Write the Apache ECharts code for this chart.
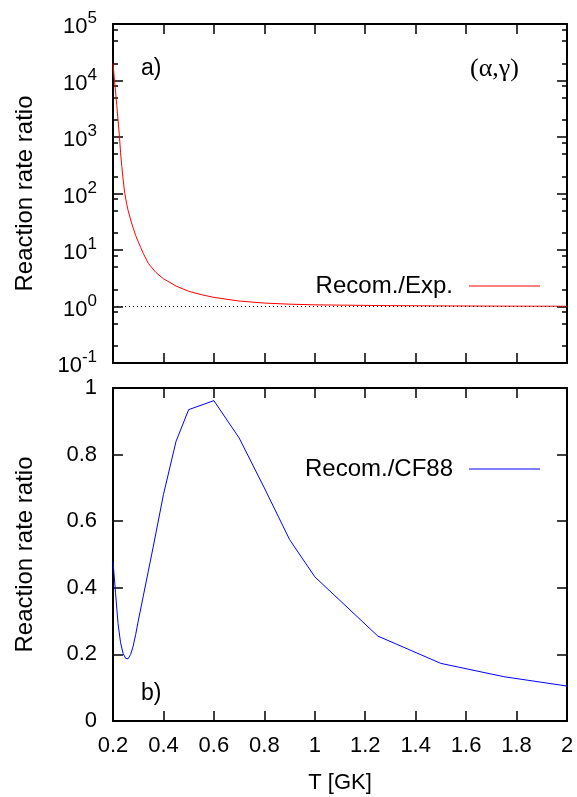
<!DOCTYPE html>
<html>
<head>
<meta charset="utf-8">
<script src="https://cdn.jsdelivr.net/npm/echarts@6/dist/echarts.min.js"></script>
<style>html,body{margin:0;padding:0;background:#fff;}#c{width:577px;height:797px;}</style>
</head>
<body>
<div id="c"></div>
<script>
// ---- data ----
const tempA = [0.20,0.205,0.21,0.215,0.22,0.225,0.23,0.235,0.24,0.245,0.25,0.255,0.26,0.27,0.28,0.29,0.30,0.31,0.32,0.34,0.37,0.40,0.45,0.50,0.55,0.60,0.70,0.80,0.90,1.00,1.25,1.50,1.75,2.00];
const ratioExp = [20000,11000,6500,3600,2000,1100,525,300,180,115,83,63,50,34,24.5,18,14,11,8.7,5.8,4.0,3.1,2.3,1.86,1.62,1.45,1.25,1.15,1.10,1.07,1.04,1.025,1.015,1.01];
const tempB = [0.20,0.21,0.22,0.23,0.24,0.25,0.26,0.27,0.28,0.29,0.30,0.32,0.34,0.36,0.40,0.45,0.50,0.60,0.70,0.80,0.90,1.00,1.25,1.50,1.75,2.00];
const ratioCF88 = [0.48,0.385,0.293,0.235,0.203,0.188,0.187,0.200,0.225,0.26,0.30,0.375,0.45,0.525,0.68,0.84,0.935,0.962,0.85,0.70,0.545,0.433,0.255,0.173,0.133,0.105];
const logMajor = [0.1,1,10,100,1000,10000,100000];
const logMinor = [0.2,0.5,0.8,2,5,8,20,50,80,200,500,800,2000,5000,8000,20000,50000,80000];
const seriesNames = ['Recom./Exp.','Recom./CF88'];

const FONT = 'Liberation Sans';
const chart = echarts.init(document.getElementById('c'), null, {renderer:'canvas'});

function xAx(grid, pos, labels, extra){
  return Object.assign({
    type:'value', gridIndex:grid, position:pos, min:0.2, max:2, interval:0.2,
    axisLine:{show:true, onZero:false, lineStyle:{color:'#000', width:2}},
    axisTick:{show:true, inside:true, length:10, lineStyle:{color:'#000', width:1.5}},
    axisLabel:{show:labels, margin:14, color:'#000', fontFamily:FONT, fontSize:22,
      formatter:v=>String(Math.round(v*10)/10)},
    splitLine:{show:false}
  }, extra||{});
}
function logAx(pos, labels, minor, extra){
  return Object.assign({
    type:'log', logBase:10, gridIndex:0, position:pos, min:0.1, max:100000,
    axisLine:{show:!minor, onZero:false, lineStyle:{color:'#000', width:2}},
    axisTick:{show:true, inside:true, length:minor?5:10, customValues: minor?logMinor:logMajor,
      lineStyle:{color:'#000', width:1.5}},
    axisLabel:{show:labels, customValues:logMajor, margin:16, color:'#000', fontFamily:FONT,
      formatter:v=>'{b|10}{s|'+Math.round(Math.log10(v))+'}',
      rich:{b:{fontFamily:FONT, fontSize:22, color:'#000', lineHeight:28, verticalAlign:'bottom'},
            s:{fontFamily:FONT, fontSize:17, color:'#000', lineHeight:17, verticalAlign:'top'}}},
    splitLine:{show:false}
  }, extra||{});
}
function linAx(pos, labels, extra){
  return Object.assign({
    type:'value', gridIndex:1, position:pos, min:0, max:1, interval:0.2,
    axisLine:{show:true, onZero:false, lineStyle:{color:'#000', width:2}},
    axisTick:{show:true, inside:true, length:10, lineStyle:{color:'#000', width:1.5}},
    axisLabel:{show:labels, margin:16, color:'#000', fontFamily:FONT, fontSize:22,
      formatter:v=>String(Math.round(v*10)/10)},
    splitLine:{show:false}
  }, extra||{});
}

const nameStyle = {color:'#000', fontFamily:FONT, fontSize:24};

const option = {
  backgroundColor:'#fff',
  animation:false,
  grid:[
    {left:113, right:10, top:24, height:339},
    {left:113, right:10, top:388, height:333}
  ],
  xAxis:[
    xAx(0,'bottom',false),
    xAx(0,'top',false),
    xAx(1,'bottom',true,{name:'T [GK]', nameLocation:'middle', nameGap:51, nameTextStyle:Object.assign({},nameStyle,{fontSize:22})}),
    xAx(1,'top',false)
  ],
  yAxis:[
    logAx('left',true,false,{name:'Reaction rate ratio', nameLocation:'middle', nameGap:76, nameTextStyle:nameStyle}),
    logAx('left',false,true),
    logAx('right',false,false),
    logAx('right',false,true),
    linAx('left',true,{name:'Reaction rate ratio', nameLocation:'middle', nameGap:76, nameTextStyle:nameStyle}),
    linAx('right',false)
  ],
  title:[
    {text:'a)', left:136, top:52, textStyle:{color:'#000', fontFamily:FONT, fontSize:23, fontWeight:'normal'}},
    {text:'(α,γ)', left:465, top:51, textStyle:{color:'#000', fontFamily:'Liberation Serif', fontSize:26, fontWeight:'normal'}},
    {text:'b)', left:136, top:677, textStyle:{color:'#000', fontFamily:FONT, fontSize:23, fontWeight:'normal'}}
  ],
  legend:[
    {data:[seriesNames[0]], right:37, top:274, padding:0, align:'right', icon:'rect', itemWidth:71, itemHeight:1,
     selectedMode:false, textStyle:{color:'#000', fontFamily:FONT, fontSize:24, padding:[0,11,0,0]}},
    {data:[seriesNames[1]], right:37, top:457, padding:0, align:'right', icon:'rect', itemWidth:71, itemHeight:1,
     selectedMode:false, textStyle:{color:'#000', fontFamily:FONT, fontSize:24, padding:[0,11,0,0]}}
  ],
  series:[
    {name:seriesNames[0], type:'line', xAxisIndex:0, yAxisIndex:0, showSymbol:false, symbol:'none',
     lineStyle:{color:'#ff0000', width:1}, itemStyle:{color:'#ff0000'},
     data: tempA.map((t,i)=>[t, ratioExp[i]]),
     markLine:{silent:true, symbol:'none', label:{show:false},
       lineStyle:{color:'#000', type:[1,3], width:1}, data:[{yAxis:1}]}},
    {name:seriesNames[1], type:'line', xAxisIndex:2, yAxisIndex:4, showSymbol:false, symbol:'none',
     lineStyle:{color:'#0000ff', width:1}, itemStyle:{color:'#0000ff'},
     data: tempB.map((t,i)=>[t, ratioCF88[i]])}
  ]
};
chart.setOption(option);
</script>
</body>
</html>
